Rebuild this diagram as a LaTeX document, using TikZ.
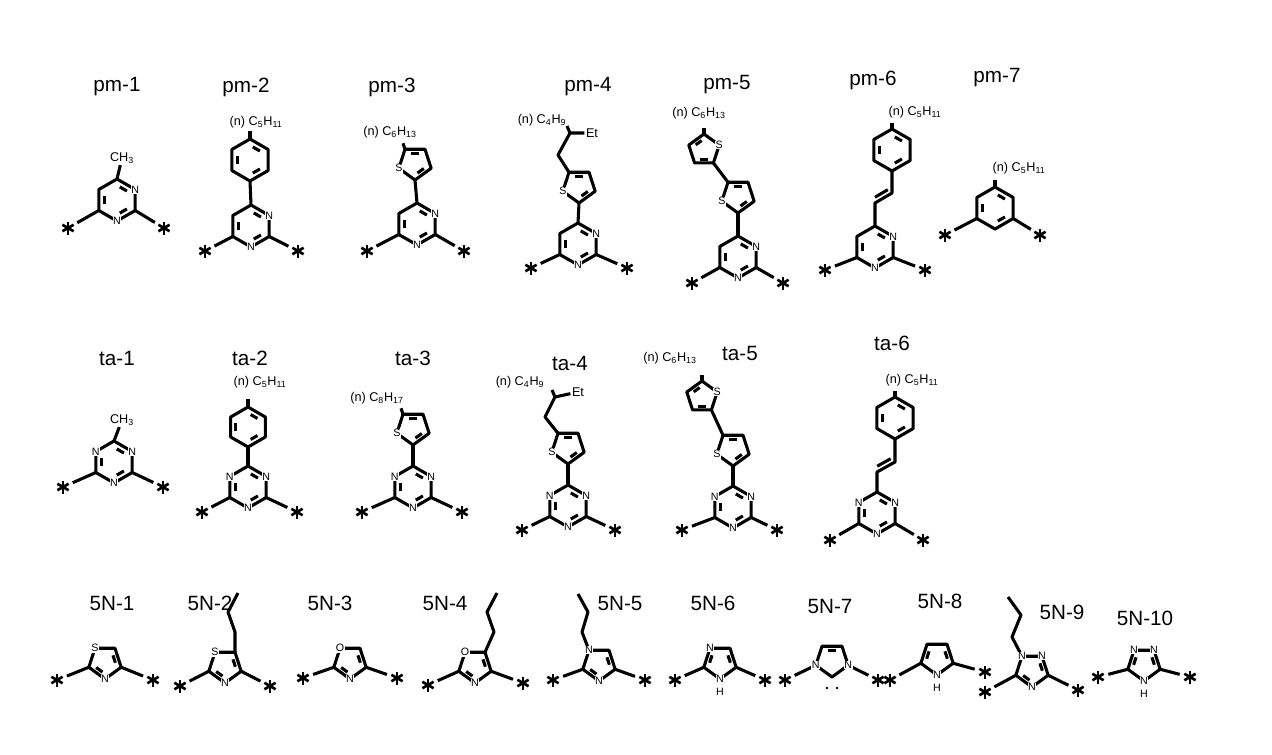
\documentclass[tikz,border=0pt]{standalone}
\usepackage{fontspec}
\setmainfont{Liberation Sans}
\usetikzlibrary{calc}
\tikzset{bond/.style={line width=2.3pt,line join=round},
 atom/.style={fill=white,inner sep=0.4pt,font=\fontsize{8}{8}\selectfont},
 ttl/.style={font=\fontsize{15.5}{15.5}\selectfont,inner sep=1pt},
 sub/.style={font=\fontsize{9.5}{10}\selectfont,inner sep=1pt}}
\newcommand\dbl[3]{\coordinate (dA) at ($(#1)!0.22!(#2)$);\coordinate (dB) at ($(#2)!0.22!(#1)$);\draw[bond] ($(dA)!0.3!(#3)$) -- ($(dB)!0.3!(#3)$);}
\newcommand\atom[2]{\node[atom] (l#1) at (#1) {#2};}
\newcommand\hexr[4]{\coordinate (#1c) at (#2,#3);
 \foreach \k/\a in {1/-90,2/-30,3/30,4/90,5/150,6/210}{\coordinate (#1\k) at ($(#1c)+(\a:#4)$);}
 \draw[bond] (#11)--(#12)--(#13)--(#14)--(#15)--(#16)--cycle;
 \dbl{#11}{#12}{#1c}\dbl{#13}{#14}{#1c}\dbl{#15}{#16}{#1c}}
\newcommand\pent[5]{\coordinate (#1c) at (#2,#3);
 \foreach \k in {1,...,5}{\coordinate (#1\k) at ($(#1c)+({#5+72*(\k-1)}:#4)$);}
 \draw[bond] (#11)--(#12)--(#13)--(#14)--(#15)--cycle;}
\newcommand\bstar[3]{\coordinate (#1) at (#2,#3);\foreach \a in {90,30,150}{\draw[line width=2pt] ($(#1)+(\a:6.5)$) -- ($(#1)+(\a+180:6.5)$);}}
\newcommand\sbond[2]{\draw[bond] (#1) -- ($(#2)!8pt!(#1)$);}
\newcommand\pym[6]{\hexr{#1}{#2}{#3}{21}\bstar{#1sl}{#4}{#6}\bstar{#1sr}{#5}{#6}\sbond{#15}{#1sl}\sbond{#13}{#1sr}\atom{#12}{N}\atom{#14}{N}}
\newcommand\trz[6]{\pym{#1}{#2}{#3}{#4}{#5}{#6}\atom{#16}{N}}
\newcommand\thio[5]{\pent{#1}{#2}{#3}{#4}{#5}\dbl{#13}{#14}{#1c}\dbl{#15}{#11}{#1c}\atom{#12}{S}}
\newcommand\stars[5]{\bstar{#1sl}{#2}{#4}\bstar{#1sr}{#3}{#5}\sbond{#12}{#1sl}\sbond{#15}{#1sr}}
\begin{document}
\begin{tikzpicture}[x=0.75pt,y=-0.75pt]
\useasboundingbox (0,0) rectangle (1272,754);
% titles
\node[ttl] (t1) at (117,87) {pm-1};
\node[ttl] (t2) at (246,87) {pm-2};
\node[ttl] (t3) at (392,87) {pm-3};
\node[ttl] (t4) at (588,87) {pm-4};
\node[ttl] (t5) at (727,85) {pm-5};
\node[ttl] (t6) at (873,80) {pm-6};
\node[ttl] (t7) at (997,78) {pm-7};
\node[ttl] (u1) at (117,358) {ta-1};
\node[ttl] (u2) at (250,358) {ta-2};
\node[ttl] (u3) at (413,358) {ta-3};
\node[ttl] (u4) at (570,363) {ta-4};
\node[ttl] (u5) at (740,353) {ta-5};
\node[ttl] (u6) at (892,343) {ta-6};
\node[ttl] (w1) at (112,603) {5N-1};
\node[ttl] (w2) at (210,603) {5N-2};
\node[ttl] (w3) at (330,603) {5N-3};
\node[ttl] (w4) at (445,603) {5N-4};
\node[ttl] (w5) at (620,603) {5N-5};
\node[ttl] (w6) at (713,603) {5N-6};
\node[ttl] (w7) at (830,606) {5N-7};
\node[ttl] (w8) at (940,601) {5N-8};
\node[ttl] (w9) at (1062,612) {5N-9};
\node[ttl] (w10) at (1145,618) {5N-10};
% pm-1
\pym{pa}{117}{200}{68}{164}{228}
\node[sub] (cha) at (122,158) {CH\textsubscript{3}}; \draw[bond] (pa1) -- (cha);
% pm-2
\hexr{ba}{250}{160}{21}\pym{pb}{251}{226}{205}{298}{251}
\draw[bond] (ba4)--(pb1); \draw[bond] (ba1)--++(0,-8);
\node[sub] (sa2) at (256,122) {(n) C\textsubscript{5}H\textsubscript{11}};
% pm-3
\thio{tha}{415}{163}{17}{90}\pym{pc}{417}{224}{367}{464}{251}
\draw[bond] (tha1)--(pc1); \draw[bond] (tha3)--++(-2,-6);
\node[sub] (sa3) at (390,132) {(n) C\textsubscript{6}H\textsubscript{13}};
% pm-4
\pym{pd}{578}{244}{531}{627}{268}\thio{thb}{579}{186}{17}{90}
\draw[bond] (thb1)--(pd1);
\coordinate (d1) at (558,155); \coordinate (d2) at (570,133);
\node[sub] (et4) at (592,133) {Et};
\draw[bond] (thb3)--(d1)--(d2)--(et4); \draw[bond] (d2)--++(-3,-7);
\node[sub] (sa4) at (542,120) {(n) C\textsubscript{4}H\textsubscript{9}};
% pm-5
\pym{pe}{738}{257}{692}{783}{283}\thio{thc}{738}{196}{17}{90}\thio{thd}{704}{150}{16}{-90}
\draw[bond] (thc1)--(pe1); \draw[bond] (thc3)--(thd3); \draw[bond] (thd1)--++(0,-6);
\node[sub] (sa5) at (699,113) {(n) C\textsubscript{6}H\textsubscript{13}};
% pm-6
\pym{pf}{875}{247}{825}{925}{270}\hexr{bf}{892}{150}{21}
\coordinate (v1) at (875,203); \coordinate (v2) at (892,193);
\draw[bond] (pf1)--(v1)--(v2)--(bf4);
\draw[bond] ($(v1)!0.15!(v2)+(-2.5,-4.3)$) -- ($(v1)!0.9!(v2)+(-2.5,-4.3)$);
\draw[bond] (bf1)--++(0,-6);
\node[sub] (sa6) at (915,112) {(n) C\textsubscript{5}H\textsubscript{11}};
% pm-7
\hexr{bg}{995}{208}{21}\bstar{bgsl}{945}{235}\bstar{bgsr}{1040}{235}
\sbond{bg5}{bgsl}\sbond{bg3}{bgsr}\draw[bond] (bg1)--++(0,-7);
\node[sub] (sa7) at (1019,168) {(n) C\textsubscript{5}H\textsubscript{11}};
% ta-1
\trz{qa}{114}{462}{63}{163}{487}
\node[sub] (chb) at (122,420) {CH\textsubscript{3}}; \draw[bond] (qa1) -- (chb);
% ta-2
\hexr{bh}{248}{427}{20}\trz{qb}{248}{487}{202}{297}{512}
\draw[bond] (bh4)--(qb1); \draw[bond] (bh1)--++(0,-8);
\node[sub] (sb2) at (260,382) {(n) C\textsubscript{5}H\textsubscript{11}};
% ta-3
\thio{the}{413}{428}{17}{90}\trz{qc}{413}{487}{362}{462}{512}
\draw[bond] (the1)--(qc1); \draw[bond] (the3)--++(-2,-6);
\node[sub] (sb3) at (377,398) {(n) C\textsubscript{8}H\textsubscript{17}};
% ta-4
\trz{qd}{568}{506}{522}{615}{530}\thio{thf}{568}{447}{17}{90}
\draw[bond] (thf1)--(qd1);
\coordinate (d3) at (545,417); \coordinate (d4) at (555,397);
\node[sub] (et5) at (578,392) {Et};
\draw[bond] (thf3)--(d3)--(d4)--(et5); \draw[bond] (d4)--++(-3,-7);
\node[sub] (sb4) at (520,382) {(n) C\textsubscript{4}H\textsubscript{9}};
% ta-5
\trz{qe}{733}{507}{682}{777}{530}\thio{thg}{733}{449}{17}{90}\thio{thh}{702}{397}{16}{-90}
\draw[bond] (thg1)--(qe1); \draw[bond] (thg3)--(thh3); \draw[bond] (thh1)--++(0,-6);
\node[sub] (sb5) at (670,358) {(n) C\textsubscript{6}H\textsubscript{13}};
% ta-6
\trz{qf}{877}{513}{830}{923}{540}\hexr{bi}{895}{418}{21}
\coordinate (v3) at (877,472); \coordinate (v4) at (895,462);
\draw[bond] (qf1)--(v3)--(v4)--(bi4);
\draw[bond] ($(v3)!0.15!(v4)+(-2.5,-4.3)$) -- ($(v3)!0.9!(v4)+(-2.5,-4.3)$);
\draw[bond] (bi1)--++(0,-6);
\node[sub] (sb6) at (912,380) {(n) C\textsubscript{5}H\textsubscript{11}};
% 5N-1
\pent{na}{105}{662}{17}{90}\dbl{na1}{na2}{nac}\dbl{na4}{na5}{nac}\stars{na}{57}{153}{680}{680}\atom{na3}{S}\atom{na1}{N}
% 5N-2
\pent{nb}{225}{666}{17}{90}\dbl{nb1}{nb2}{nbc}\dbl{nb4}{nb5}{nbc}\stars{nb}{180}{270}{686}{686}
\coordinate (c1) at (235,632); \coordinate (c2) at (228,612); \coordinate (c3) at (238,593);
\draw[bond] (nb4)--(c1)--(c2)--(c3);\atom{nb3}{S}\atom{nb1}{N}
% 5N-3
\pent{nc}{350}{662}{17}{90}\dbl{nc1}{nc2}{ncc}\dbl{nc4}{nc5}{ncc}\stars{nc}{303}{397}{678}{678}\atom{nc3}{O}\atom{nc1}{N}
% 5N-4
\pent{nd}{475}{666}{17}{90}\dbl{nd1}{nd2}{ndc}\dbl{nd4}{nd5}{ndc}\stars{nd}{428}{523}{685}{683}
\coordinate (c4) at (494,632); \coordinate (c5) at (487,612); \coordinate (c6) at (497,593);
\draw[bond] (nd4)--(c4)--(c5)--(c6);\atom{nd3}{O}\atom{nd1}{N}
% 5N-5
\pent{ne}{599}{664}{17}{90}\dbl{ne1}{ne2}{nec}\dbl{ne4}{ne5}{nec}\stars{ne}{553}{645}{680}{680}
\coordinate (c7) at (582,632); \coordinate (c8) at (588,612); \coordinate (c9) at (578,594);
\draw[bond] (ne3)--(c7)--(c8)--(c9);\atom{ne3}{N}\atom{ne1}{N}
% 5N-6
\pent{nf}{720}{662}{17}{90}\dbl{nf2}{nf3}{nfc}\dbl{nf4}{nf5}{nfc}\stars{nf}{675}{765}{680}{680}
\atom{nf3}{N}\atom{nf1}{N}\node[atom] (hf) at ($(nf1)+(0,13)$) {H};
% 5N-7
\pent{ng}{832}{660}{17}{90}\dbl{ng3}{ng4}{ngc}\stars{ng}{785}{878}{680}{680}
\atom{ng2}{N}\atom{ng5}{N}
\fill ($(ng1)+(-5,11)$) circle (1pt); \fill ($(ng1)+(5,11)$) circle (1pt);
% 5N-8
\pent{nh}{937}{658}{17}{90}\dbl{nh2}{nh3}{nhc}\dbl{nh4}{nh5}{nhc}\stars{nh}{890}{985}{680}{672}
\atom{nh1}{N}\node[atom] (hh) at ($(nh1)+(0,13)$) {H};
% 5N-9
\pent{ni}{1032}{670}{17}{90}\dbl{ni1}{ni2}{nic}\dbl{ni4}{ni5}{nic}\stars{ni}{985}{1078}{692}{690}
\coordinate (c10) at (1012,637); \coordinate (c11) at (1021,615); \coordinate (c12) at (1008,597);
\draw[bond] (ni3)--(c10)--(c11)--(c12);\atom{ni1}{N}\atom{ni3}{N}\atom{ni4}{N}
% 5N-10
\pent{nj}{1144}{664}{17}{90}\dbl{nj2}{nj3}{njc}\dbl{nj4}{nj5}{njc}\stars{nj}{1098}{1190}{677}{677}
\atom{nj1}{N}\atom{nj3}{N}\atom{nj4}{N}\node[atom] (hj) at ($(nj1)+(0,13)$) {H};
\end{tikzpicture}
\end{document}
